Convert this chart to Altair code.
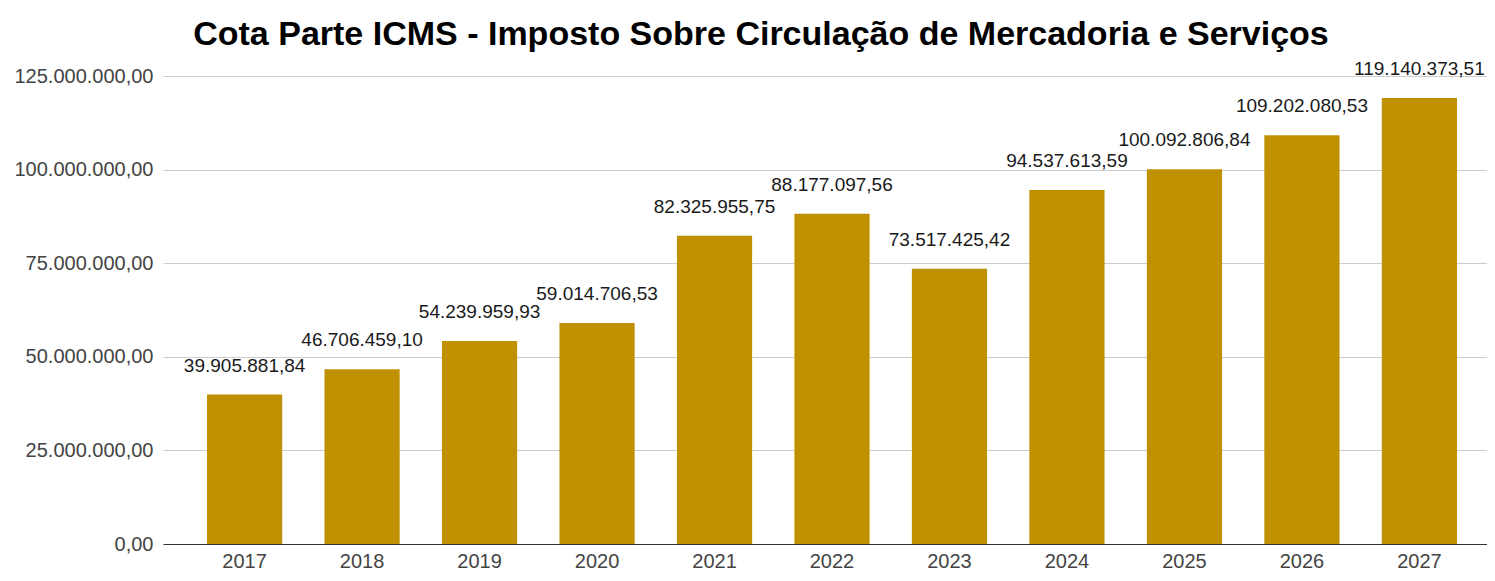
import altair as alt
import pandas as pd

years = ["2017", "2018", "2019", "2020", "2021", "2022", "2023", "2024", "2025", "2026", "2027"]
values = [39905881.84, 46706459.10, 54239959.93, 59014706.53, 82325955.75, 88177097.56,
          73517425.42, 94537613.59, 100092806.84, 109202080.53, 119140373.51]
y_ticks = [0, 25000000, 50000000, 75000000, 100000000, 125000000]
title_text = "Cota Parte ICMS - Imposto Sobre Circulação de Mercadoria e Serviços"

df = pd.DataFrame({"ano": years, "valor": values})

FONT = "Liberation Sans"

x = alt.X("ano:N", sort=years, title=None,
          scale=alt.Scale(paddingInner=0.36, paddingOuter=0.315, align=0.5946),
          axis=alt.Axis(labelAngle=0, ticks=False, domain=True, domainColor="#333333",
                        labelFontSize=20, labelColor="#444444", labelPadding=7, labelFont=FONT))
y = alt.Y("valor:Q", title=None,
          scale=alt.Scale(domain=[0, 125000000], nice=False),
          axis=alt.Axis(values=y_ticks, format=",.2f", ticks=False, domain=False,
                        labelFontSize=20, labelColor="#444444", labelPadding=10, labelFont=FONT,
                        gridColor="#cccccc", gridWidth=1))

base = alt.Chart(df)
bars = base.mark_bar(color="#bf9000").encode(x=x, y=y)
labels = base.mark_text(baseline="alphabetic", dy=-23, fontSize=19, color="#1a1a1a", font=FONT).encode(
    x=x, y=y, text=alt.Text("valor:Q", format=",.2f"))

chart = (bars + labels).properties(
    width=1324, height=468,
    autosize=alt.AutoSizeParams(type="none"),
    padding={"left": 155, "top": 68, "right": 0, "bottom": 28},
    title=alt.TitleParams(title_text, fontSize=34, font=FONT, fontWeight="bold", color="#000000",
                          anchor="middle", dx=-64, offset=8),
).configure(
    locale={"number": {"decimal": ",", "thousands": ".", "grouping": [3], "currency": ["R$", ""]}}
).configure_view(stroke=None)

chart.save("out.html", embed_options={"renderer": "svg", "actions": False})
